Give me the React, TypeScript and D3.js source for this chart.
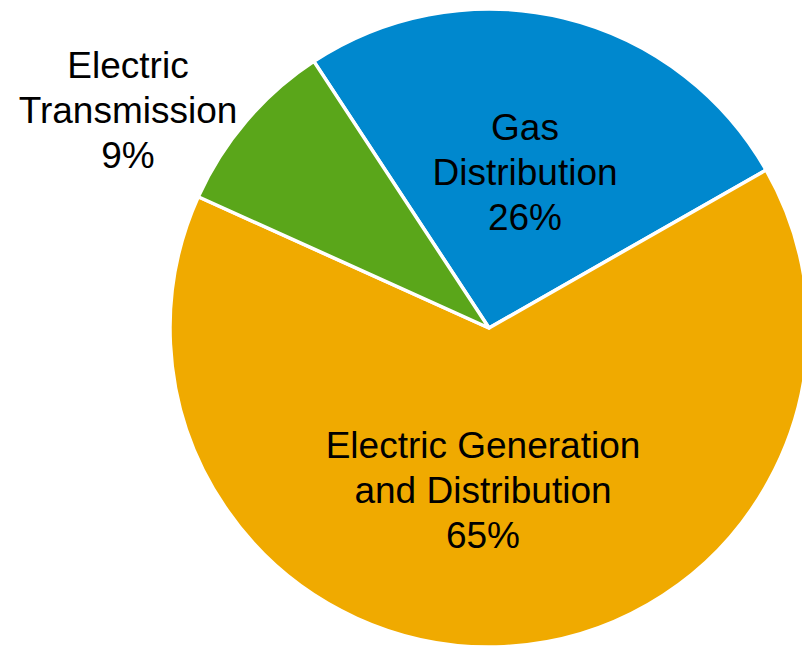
import React from 'react'
import * as d3 from 'd3'

// segment data, in drawing order (clockwise from the gas slice)
const categories = ['Gas Distribution', 'Electric Generation and Distribution', 'Electric Transmission']
const shares = [26, 65, 9]
const labelLines = [
  ['Gas', 'Distribution', '26%'],
  ['Electric Generation', 'and Distribution', '65%'],
  ['Electric', 'Transmission', '9%'],
]
const colors = ['#0088CE', '#F0AA00', '#5AA61A']

const width = 802
const height = 648
const cx = 489
const cy = 328
const radius = 319
const startDeg = -33.3
const lineGap = 45
// where each label block sits (centre of middle line), relative to the pie centre
const labelPos: [number, number][] = [
  [36, -143],
  [-6, 175],
  [-361, -205],
]

export default function App() {
  const start = (startDeg * Math.PI) / 180
  const pie = d3
    .pie<number>()
    .sort(null)
    .value(d => d)
    .startAngle(start)
    .endAngle(start + 2 * Math.PI)
  const arcs = pie(shares)
  const arc = d3.arc<d3.PieArcDatum<number>>().innerRadius(0).outerRadius(radius)

  return (
    <svg
      width={width}
      height={height}
      style={{ position: 'absolute', left: 0, top: 0, display: 'block' }}
      fontFamily="'Liberation Sans', Arial, sans-serif"
    >
      <rect width={width} height={height} fill="#fff" />
      <g transform={`translate(${cx},${cy})`}>
        {arcs.map((a, i) => (
          <path
            key={categories[i]}
            d={arc(a) ?? ''}
            fill={colors[i]}
            stroke="#fff"
            strokeWidth={3.5}
            strokeLinejoin="round"
          />
        ))}
        {labelLines.map((lines, i) => (
          <text
            key={categories[i]}
            textAnchor="middle"
            fontSize={37}
            fill="#000"
            transform={`translate(${labelPos[i][0]},${labelPos[i][1]})`}
          >
            {lines.map((l, j) => (
              <tspan key={j} x={0} y={(j - 1) * lineGap}>
                {l}
              </tspan>
            ))}
          </text>
        ))}
      </g>
    </svg>
  )
}
